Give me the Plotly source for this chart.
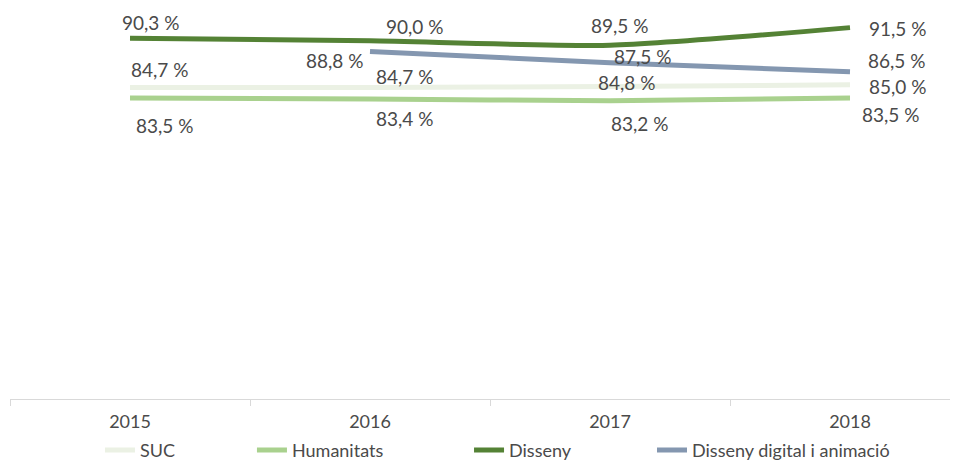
import plotly.graph_objects as go

years = ["2015", "2016", "2017", "2018"]
suc = [84.7, 84.7, 84.8, 85.0]
humanitats = [83.5, 83.4, 83.2, 83.5]
disseny = [90.3, 90.0, 89.5, 91.5]
digital = [None, 88.8, 87.5, 86.5]

series = [
    ("SUC", suc, "#ebf1e4"),
    ("Humanitats", humanitats, "#a9d18e"),
    ("Disseny", disseny, "#548235"),
    ("Disseny digital i animació", digital, "#8497b0"),
]

# label pixel offsets (dx right, dy down) per series / year
offsets = {
    "SUC": [(29, -18), (34, -11), (16, -4), (47, 2)],
    "Humanitats": [(34, 27), (34, 20), (29, 23), (40, 16)],
    "Disseny": [(20, -16), (44, -14), (9, -20), (47, 1)],
    "Disseny digital i animació": [None, (-36, 9), (32, -6), (46, -11)],
}
# legend entry positions (fraction of figure width)
legend_x = [0.0968, 0.2568, 0.4853, 0.6779]

xs = list(range(len(years)))
font = "Lato, 'Open Sans', sans-serif"
txtcol = "#4a4a4a"

W, H = 950, 456  # page body has an 8px margin

fig = go.Figure()
annotations = []
legends = {}
for k, (name, vals, col) in enumerate(series):
    lname = "legend" if k == 0 else f"legend{k + 1}"
    fig.add_trace(go.Scatter(
        x=xs, y=vals, name=name, mode="lines",
        line=dict(color=col, width=5, shape="spline", smoothing=0.6),
        connectgaps=False, hoverinfo="skip", legend=lname,
    ))
    legends[lname] = dict(
        orientation="h", xref="container", yref="container",
        x=legend_x[k], xanchor="left", y=0.03, yanchor="middle",
        font=dict(family=font, size=18, color=txtcol),
        bgcolor="rgba(0,0,0,0)", borderwidth=0,
    )
    for i, v in enumerate(vals):
        if v is None:
            continue
        dx, dy = offsets[name][i]
        annotations.append(dict(
            x=xs[i], y=v, xref="x", yref="y",
            text=f"{v:.1f}".replace(".", ",") + " %",
            showarrow=False, xshift=dx, yshift=-dy,
            font=dict(family=font, size=19, color=txtcol),
        ))

fig.update_layout(
    width=W, height=H,
    margin=dict(l=2, r=0, t=0, b=65, autoexpand=False),
    paper_bgcolor="white", plot_bgcolor="white",
    showlegend=True,
    annotations=annotations,
    xaxis=dict(
        range=[-0.5, -0.5 + 948 / 240], tickvals=xs, ticktext=years,
        showgrid=False, zeroline=False, showline=True, linecolor="#d9d9d9", linewidth=1,
        ticks="outside", ticklen=6, tickcolor="rgba(0,0,0,0)",
        tickfont=dict(family=font, size=18, color=txtcol),
        minor=dict(tick0=-0.5, dtick=1, ticks="outside", ticklen=6, tickcolor="#d9d9d9", showgrid=False),
        fixedrange=True,
    ),
    yaxis=dict(range=[49.3, 93.73], visible=False, showgrid=False, zeroline=False, fixedrange=True),
    **legends,
)

fig.write_html("out.html")
